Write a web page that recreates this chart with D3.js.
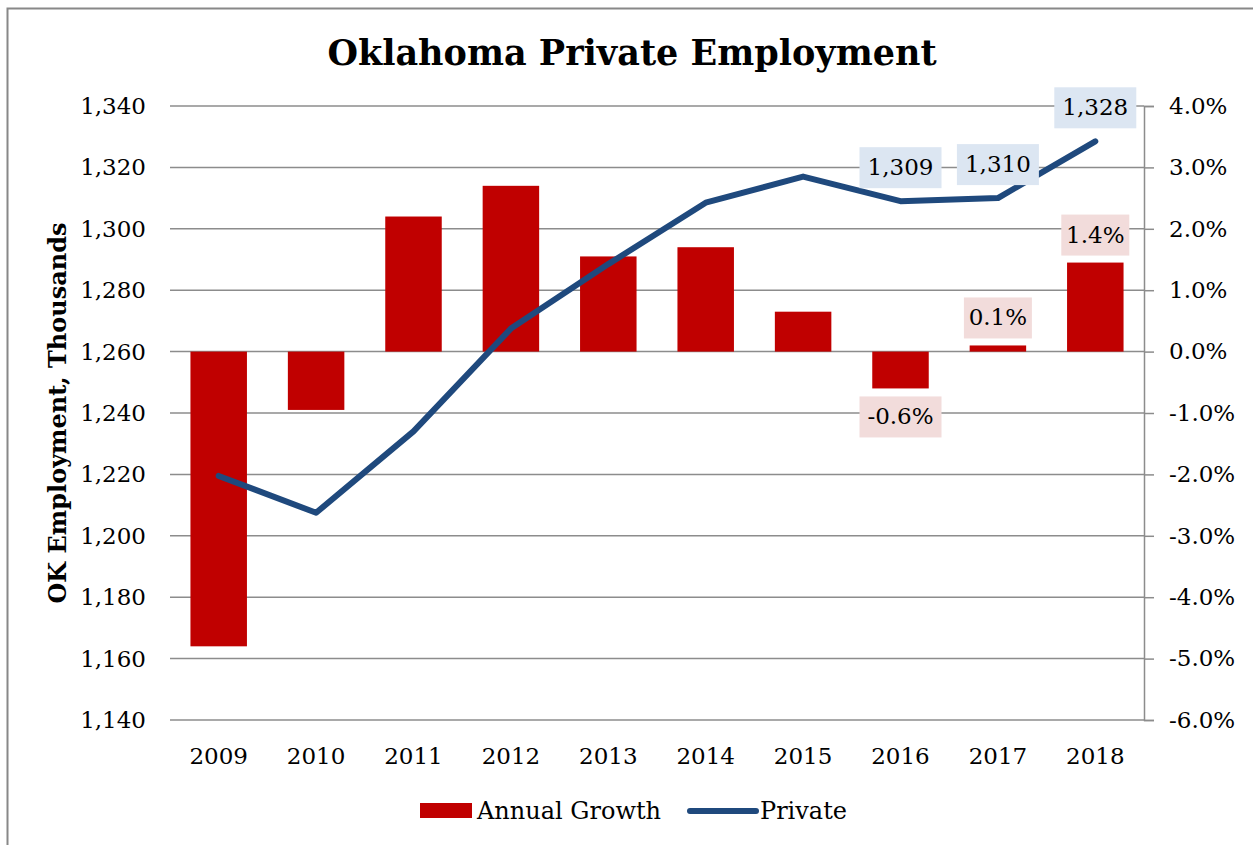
<html>
<head>
<meta charset="utf-8">
<script src="https://d3js.org/d3.v7.min.js"></script>
<style>
body { margin: 0; background: white; }
text { font-family: "DejaVu Serif", serif; fill: black; }
</style>
</head>
<body>
<svg width="1253" height="845"></svg>
<script>
// chart values
var years = ["2009","2010","2011","2012","2013","2014","2015","2016","2017","2018"];
var growth = [-4.8, -0.95, 2.2, 2.7, 1.55, 1.7, 0.65, -0.6, 0.1, 1.45];
var privateEmp = [1219.5, 1207.5, 1234, 1267.5, 1288.5, 1308.5, 1317, 1309, 1310, 1328.5];
var leftTicks = [1140,1160,1180,1200,1220,1240,1260,1280,1300,1320,1340];
var rightTicks = [-6,-5,-4,-3,-2,-1,0,1,2,3,4];
var growthLabels = {"2016": "-0.6%", "2017": "0.1%", "2018": "1.4%"};
var empLabels = {"2016": "1,309", "2017": "1,310", "2018": "1,328"};

var svg = d3.select("svg");

// frame
svg.append("rect").attr("x", 7.5).attr("y", 8.5).attr("width", 1260).attr("height", 850)
  .attr("fill", "none").attr("stroke", "#888").attr("stroke-width", 2);

var pL = 170, pR = 1144, pT = 106, pB = 720;
var x = d3.scaleBand().domain(years).range([pL, pR]).paddingInner(0.42).paddingOuter(0.21);
var yL = d3.scaleLinear().domain([1140, 1340]).range([pB, pT]);
var yR = d3.scaleLinear().domain([-6, 4]).range([pB, pT]);

// gridlines
svg.append("g").selectAll("line").data(leftTicks).enter().append("line")
  .attr("x1", pL).attr("x2", pR)
  .attr("y1", d => yL(d)).attr("y2", d => yL(d))
  .attr("stroke", "#8c8c8c").attr("stroke-width", 1.5);

// left axis labels
svg.append("g").selectAll("text").data(leftTicks).enter().append("text")
  .attr("x", 146).attr("y", d => yL(d) + 8)
  .attr("text-anchor", "end").style("font-size", "23px")
  .text(d => d3.format(",")(d));

// right axis
var ra = svg.append("g").attr("transform", "translate(" + pR + ",0)")
  .call(d3.axisRight(yR).tickValues(rightTicks).tickSize(10).tickPadding(15)
    .tickFormat(d => d3.format(".1f")(d).replace("\u2212", "-") + "%"));
ra.select(".domain").attr("stroke", "#8c8c8c").attr("stroke-width", 1.5);
ra.selectAll(".tick line").attr("stroke", "#8c8c8c").attr("stroke-width", 1.5);
ra.selectAll(".tick text").style("font-size", "23px").style("font-family", "DejaVu Serif").attr("fill", "black");

// bars
svg.append("g").selectAll("rect").data(years).enter().append("rect")
  .attr("x", d => x(d))
  .attr("width", x.bandwidth())
  .attr("y", (d, i) => yR(Math.max(0, growth[i])))
  .attr("height", (d, i) => Math.abs(yR(growth[i]) - yR(0)))
  .attr("fill", "#c00000");

// line
var line = d3.line().x((d, i) => x(years[i]) + x.bandwidth() / 2).y(d => yL(d));
svg.append("path").datum(privateEmp).attr("d", line)
  .attr("fill", "none").attr("stroke", "#1f497d").attr("stroke-width", 6)
  .attr("stroke-linejoin", "round").attr("stroke-linecap", "round");

// data labels
function label(cx, cy, txt, fill) {
  var w = txt.length * 14 + 12;
  svg.append("rect").attr("x", cx - w / 2).attr("y", cy - 20).attr("width", w).attr("height", 41).attr("fill", fill);
  svg.append("text").attr("x", cx).attr("y", cy + 8).attr("text-anchor", "middle").style("font-size", "23px").text(txt);
}
years.forEach(function(yr, i) {
  var cx = x(yr) + x.bandwidth() / 2;
  if (empLabels[yr]) label(cx, yL(privateEmp[i]) - 34, empLabels[yr], "#dce6f2");
  if (growthLabels[yr]) {
    if (growth[i] < 0) label(cx, yR(growth[i]) + 28, growthLabels[yr], "#f2dcdb");
    else label(cx, yR(growth[i]) - 28, growthLabels[yr], "#f2dcdb");
  }
});

// x labels
svg.append("g").selectAll("text").data(years).enter().append("text")
  .attr("x", d => x(d) + x.bandwidth() / 2).attr("y", 764)
  .attr("text-anchor", "middle").style("font-size", "23px").text(d => d);

// title
svg.append("text").attr("x", 632).attr("y", 65).attr("text-anchor", "middle")
  .style("font-size", "35px").style("font-weight", "bold").text("Oklahoma Private Employment");

// y title
svg.append("text").attr("transform", "translate(66,413) rotate(-90)").attr("text-anchor", "middle")
  .style("font-size", "24px").style("font-weight", "bold").text("OK Employment, Thousands");

// legend
svg.append("rect").attr("x", 420).attr("y", 803).attr("width", 52).attr("height", 15).attr("fill", "#c00000");
svg.append("text").attr("x", 477).attr("y", 819).style("font-size", "24px").text("Annual Growth");
svg.append("line").attr("x1", 690).attr("x2", 756).attr("y1", 811).attr("y2", 811)
  .attr("stroke", "#1f497d").attr("stroke-width", 6).attr("stroke-linecap", "round");
svg.append("text").attr("x", 760).attr("y", 819).style("font-size", "24px").text("Private");
</script>
</body>
</html>
